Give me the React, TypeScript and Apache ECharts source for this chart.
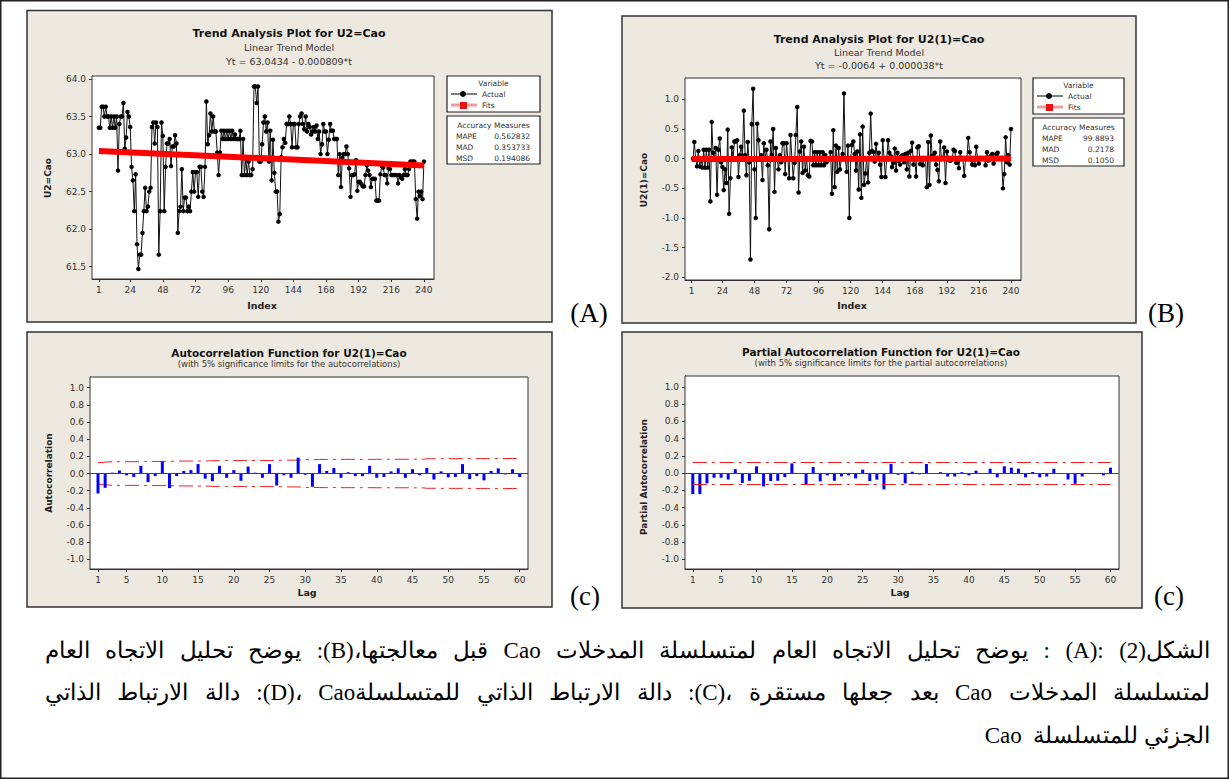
import React, { useEffect, useRef } from "react";
import * as echarts from "echarts";

// ---------- DATA ----------
const indexTicks = [1, 24, 48, 72, 96, 120, 144, 168, 192, 216, 240];
const lagTicks = [1, 5, 10, 15, 20, 25, 30, 35, 40, 45, 50, 55, 60];
const caoTicks = [61.5, 62.0, 62.5, 63.0, 63.5, 64.0];
const diffTicks = [-2.0, -1.5, -1.0, -0.5, 0.0, 0.5, 1.0];
const corrTicks = [-1.0, -0.8, -0.6, -0.4, -0.2, 0.0, 0.2, 0.4, 0.6, 0.8, 1.0];

// U2=Cao, t = 1..240
const cao = [
  63.35, 63.35, 63.63, 63.63, 63.5, 63.63, 63.5, 63.5, 63.35, 63.5,
  63.35, 63.5, 63.35, 63.5, 62.78, 63.4, 63.5, 63.5, 63.68, 63.07,
  63.22, 63.56, 63.5, 63.36, 62.83, 62.65, 62.24, 62.73, 61.8, 61.47,
  61.66, 61.66, 61.95, 62.24, 62.55, 62.24, 62.3, 62.5, 62.55, 63.36,
  63.42, 63.14, 63.42, 63.36, 61.66, 62.24, 63.42, 63.24, 62.24, 62.83,
  63.14, 63.14, 63.2, 62.84, 63.1, 63.1, 63.25, 63.14, 61.95, 62.24,
  62.3, 62.8, 62.24, 62.42, 62.42, 62.24, 62.3, 62.24, 62.5, 62.76,
  62.5, 62.76, 62.76, 62.43, 62.83, 62.83, 62.5, 62.43, 62.83, 63.7,
  63.13, 63.25, 63.54, 63.3, 63.5, 63.3, 63.3, 63.02, 62.72, 63.02,
  63.31, 63.2, 63.31, 63.2, 63.31, 63.2, 63.31, 63.2, 63.31, 63.2,
  63.26, 63.2, 63.2, 63.2, 63.31, 62.72, 63.2, 62.72, 62.94, 62.72,
  62.9, 62.72, 62.72, 62.8, 63.9, 63.9, 63.68, 63.9, 62.9, 62.9,
  63.13, 63.42, 63.5, 63.3, 63.42, 62.9, 63.31, 62.65, 63.19, 62.75,
  62.5, 62.5, 62.1, 62.2, 62.96, 63.09, 63.2, 63.15, 63.4, 63.4,
  63.5, 63.4, 63.09, 63.4, 63.4, 63.09, 63.09, 63.4, 63.5, 63.54,
  63.4, 63.33, 63.5, 63.3, 63.4, 63.36, 63.26, 63.3, 63.36, 63.3,
  63.38, 63.2, 63.3, 63.0, 63.13, 63.4, 63.3, 63.3, 63.0, 63.19,
  63.4, 63.31, 63.31, 63.2, 63.2, 63.2, 62.72, 63.0, 62.56, 62.95,
  63.0, 63.0, 63.1, 63.0, 62.81, 62.43, 62.72, 62.72, 62.73, 62.92,
  62.51, 62.63, 62.63, 62.6, 62.57, 62.57, 62.72, 62.85, 62.78, 62.72,
  62.56, 62.67, 62.67, 62.67, 62.38, 62.38, 62.38, 62.73, 62.84, 62.82,
  62.72, 62.72, 62.61, 62.81, 62.8, 62.72, 62.72, 62.72, 62.72, 62.72,
  62.61, 62.72, 62.69, 62.67, 62.72, 62.8, 62.72, 62.72, 62.8, 62.9,
  62.9, 62.9, 62.9, 62.4, 62.14, 62.5, 62.44, 62.5, 62.4, 62.9,
];
// fitted trend at t=1 and t=240
const caoFit = [63.0426, 62.8493];

// U2(1)=Cao, t = 2..240
const caoDiff = [
  0, 0.28, 0, -0.13, 0.13, -0.13, 0, -0.15, 0.15, -0.15,
  0.15, -0.15, 0.15, -0.72, 0.62, 0.1, 0, 0.18, -0.61, 0.15,
  0.34, -0.06, -0.14, -0.53, -0.18, -0.41, 0.49, -0.93, -0.33, 0.19,
  0, 0.29, 0.29, 0.31, -0.31, 0.06, 0.2, 0.05, 0.81, 0.06,
  -0.28, 0.28, -0.06, -1.7, 0.58, 1.18, -0.18, -1.0, 0.59, 0.31,
  0, 0.06, -0.36, 0.26, 0, 0.15, -0.11, -1.19, 0.29, 0.06,
  0.5, -0.56, 0.18, 0, -0.18, 0.06, -0.06, 0.26, 0.26, -0.26,
  0.26, 0, -0.33, 0.4, 0, -0.33, -0.07, 0.4, 0.87, -0.57,
  0.12, 0.29, -0.24, 0.2, -0.2, 0, -0.28, -0.3, 0.3, 0.29,
  -0.11, 0.11, -0.11, 0.11, -0.11, 0.11, -0.11, 0.11, -0.11, 0.06,
  -0.06, 0, 0, 0.11, -0.59, 0.48, -0.48, 0.22, -0.22, 0.18,
  -0.18, 0, 0.08, 1.1, 0, -0.22, 0.22, -1.0, 0, 0.23,
  0.29, 0.08, -0.2, 0.12, -0.52, 0.41, -0.66, 0.54, -0.44, -0.25,
  0, -0.4, 0.1, 0.76, 0.13, 0.11, -0.05, 0.25, 0, 0.1,
  -0.1, -0.31, 0.31, 0, -0.31, 0, 0.31, 0.1, 0.04, -0.14,
  -0.07, 0.17, -0.2, 0.1, -0.04, -0.1, 0.04, 0.06, -0.06, 0.08,
  -0.18, 0.1, -0.3, 0.13, 0.27, -0.1, 0, -0.3, 0.19, 0.21,
  -0.09, 0, -0.11, 0, 0, -0.48, 0.28, -0.44, 0.39, 0.05,
  0, 0.1, -0.1, -0.19, -0.38, 0.29, 0, 0.01, 0.19, -0.41,
  0.12, 0, -0.03, -0.03, 0, 0.15, 0.13, -0.07, -0.06, -0.16,
  0.11, 0, 0, -0.29, 0, 0, 0.35, 0.11, -0.02, -0.1,
  0, -0.11, 0.2, -0.01, -0.08, 0, 0, 0, 0, -0.11,
  0.11, -0.03, -0.02, 0.05, 0.08, -0.08, 0, 0.08, 0.1, 0,
  0, 0, -0.5, -0.26, 0.36, -0.06, 0.06, -0.1, 0.5,
];
const diffFit = [-0.0064, 0.0027];

// ACF / PACF, lags 1..60
const acf = [
  -0.233, -0.167, 0.01, 0.035, -0.02, -0.04, 0.09, -0.1, -0.03, 0.14,
  -0.17, -0.03, 0.03, 0.04, 0.11, -0.06, -0.09, 0.09, -0.05, 0.04,
  -0.085, 0.08, 0.01, -0.05, 0.11, -0.14, -0.02, -0.05, 0.185, -0.015,
  -0.155, 0.11, 0.03, 0.065, -0.05, 0.015, -0.03, -0.03, 0.09, -0.05,
  -0.04, 0.025, 0.06, -0.05, 0.05, -0.02, 0.065, -0.07, 0.025, -0.045,
  -0.04, 0.11, -0.065, -0.03, -0.08, 0.03, 0.06, -0.01, 0.05, -0.04,
];
const acfLimits = [
  0.127, 0.134, 0.138, 0.138, 0.138, 0.138, 0.139, 0.14, 0.141, 0.141,
  0.143, 0.145, 0.145, 0.145, 0.146, 0.147, 0.15, 0.15, 0.151, 0.151,
  0.151, 0.152, 0.152, 0.152, 0.152, 0.153, 0.156, 0.156, 0.157, 0.162,
  0.162, 0.164, 0.164, 0.164, 0.165, 0.165, 0.165, 0.165, 0.165, 0.166,
  0.166, 0.166, 0.166, 0.166, 0.167, 0.167, 0.172, 0.172, 0.173, 0.173,
  0.173, 0.173, 0.174, 0.174, 0.174, 0.174, 0.175, 0.175, 0.175, 0.175,
];
const pacf = [
  -0.245, -0.245, -0.12, -0.055, -0.055, -0.075, 0.045, -0.115, -0.09, 0.077,
  -0.155, -0.093, -0.09, -0.046, 0.112, -0.01, -0.127, 0.07, -0.097, -0.027,
  -0.09, -0.04, -0.027, -0.062, 0.039, -0.093, -0.077, -0.19, 0.105, -0.02,
  -0.12, 0.015, -0.015, 0.105, -0.01, 0.01, -0.04, -0.04, 0.01, -0.027,
  0.027, -0.01, 0.05, -0.05, 0.078, 0.062, 0.05, -0.05, 0.012, -0.05,
  -0.04, 0.05, -0.01, -0.075, -0.125, -0.04, -0.01, -0.01, -0.027, 0.062,
];
const pacfLimit = 0.127;

const accuracyA = [["MAPE", "0.562832"], ["MAD", "0.353733"], ["MSD", "0.194086"]];
const accuracyB = [["MAPE", "99.8893"], ["MAD", "0.2178"], ["MSD", "0.1050"]];

const titles = {
  a: ["Trend Analysis Plot for U2=Cao", "Linear Trend Model", "Yt = 63.0434 - 0.000809*t"],
  b: ["Trend Analysis Plot for U2(1)=Cao", "Linear Trend Model", "Yt = -0.0064 + 0.000038*t"],
  c: ["Autocorrelation Function for U2(1)=Cao", "(with 5% significance limits for the autocorrelations)"],
  d: ["Partial Autocorrelation Function for U2(1)=Cao", "(with 5% significance limits for the partial autocorrelations)"],
};

const captionLines = [
  "الشكل(2) :(A) : يوضح تحليل الاتجاه العام لمتسلسلة المدخلات Cao قبل معالجتها،(B): يوضح تحليل الاتجاه العام",
  "لمتسلسلة المدخلات Cao بعد جعلها مستقرة ،(C): دالة الارتباط الذاتي للمتسلسلةCao ،(D): دالة الارتباط الذاتي",
  "الجزئي للمتسلسلة  Cao",
];

// ---------- HELPERS ----------
const FONT = "'DejaVu Sans', Verdana, sans-serif";
const SERIF = "'Liberation Serif', 'Times New Roman', serif";
const BEIGE = "#EDE9E0";
const CAP_SIZE = 23;

function txt(x: number, y: number, text: string, o: any = {}) {
  const align = o.align || "center";
  return {
    type: "text",
    x,
    y,
    rotation: o.rotation || 0,
    silent: true,
    z: 50,
    style: {
      text,
      fill: o.color || "#1a1a1a",
      fontSize: o.size || 9,
      fontFamily: o.family || FONT,
      fontWeight: o.weight || "normal",
      textAlign: align,
      align,
      textVerticalAlign: "middle",
      verticalAlign: "middle",
    },
  };
}

function rect(x: number, y: number, w: number, h: number, fill: string, stroke: string, lw: number, z = -10) {
  return {
    type: "rect",
    silent: true,
    z,
    shape: { x, y, width: w, height: h },
    style: { fill, stroke, lineWidth: lw },
  };
}

function axis(gridIndex: number, min: number, max: number, ticks: number[], digits: number) {
  return {
    type: "value",
    gridIndex,
    min,
    max,
    axisLine: { show: true, onZero: false, lineStyle: { color: "#333", width: 1 } },
    axisTick: { show: true, customValues: ticks, length: 3, lineStyle: { color: "#333" } },
    axisLabel: {
      customValues: ticks,
      formatter: (v: number) => (digits ? Number(v).toFixed(digits) : String(Math.round(v))),
      fontSize: 9,
      color: "#333",
      fontFamily: FONT,
      margin: 6,
    },
    splitLine: { show: false },
  };
}

function legendBox(x: number, y: number, w: number, acc: string[][]) {
  const els: any[] = [];
  els.push(rect(x, y, w, 36, "#fff", "#222", 1.2, 5));
  els.push(txt(x + w / 2, y + 7, "Variable", { size: 7.5, color: "#333" }));
  els.push({ type: "line", z: 6, silent: true, shape: { x1: x + 4, y1: y + 18, x2: x + 30, y2: y + 18 }, style: { stroke: "#000", lineWidth: 1 } });
  els.push({ type: "circle", z: 7, silent: true, shape: { cx: x + 16, cy: y + 18, r: 3 }, style: { fill: "#000" } });
  els.push(txt(x + 35, y + 18, "Actual", { size: 7.5, align: "left", color: "#333" }));
  els.push({ type: "line", z: 6, silent: true, shape: { x1: x + 4, y1: y + 29, x2: x + 30, y2: y + 29 }, style: { stroke: "#F59A9A", lineWidth: 3 } });
  els.push({ type: "rect", z: 7, silent: true, shape: { x: x + 13, y: y + 26, width: 7, height: 7 }, style: { fill: "#ee1111" } });
  els.push(txt(x + 35, y + 29, "Fits", { size: 7.5, align: "left", color: "#333" }));
  const ay = y + 40;
  els.push(rect(x, ay, w, 48, "#fff", "#222", 1.2, 5));
  els.push(txt(x + w / 2, ay + 9, "Accuracy Measures", { size: 7.5, color: "#333" }));
  acc.forEach((row, i) => {
    els.push(txt(x + 9, ay + 20 + i * 11, row[0], { size: 7.5, align: "left", color: "#333" }));
    els.push(txt(x + w - 10, ay + 20 + i * 11, row[1], { size: 7.5, align: "right", color: "#333" }));
  });
  return els;
}

// justified right-to-left line: words laid out from the right edge
function justifiedLine(line: string, right: number, left: number, y: number) {
  const canvas = document.createElement("canvas");
  const ctx = canvas.getContext("2d") as CanvasRenderingContext2D;
  ctx.font = `${CAP_SIZE}px ${SERIF}`;
  const words = line.split(/\s+/).filter((w) => w.length);
  const widths = words.map((w) => ctx.measureText(w).width);
  const total = widths.reduce((a, b) => a + b, 0);
  const gap = (right - left - total) / Math.max(1, words.length - 1);
  const els: any[] = [];
  let x = right;
  words.forEach((w, i) => {
    els.push(txt(x, y, "\u202B" + w + "\u202C", { size: CAP_SIZE, family: SERIF, color: "#000", align: "right" }));
    x -= widths[i] + gap;
  });
  return els;
}

export default function App() {
  const ref = useRef<HTMLDivElement>(null);
  useEffect(() => {
    if (!ref.current) return;
    const chart = echarts.init(ref.current, undefined, { renderer: "svg" });

    const grids = [
      { left: 92, top: 76, width: 342, height: 203 },
      { left: 685, top: 78, width: 336, height: 202 },
      { left: 90, top: 377, width: 438, height: 192 },
      { left: 685, top: 376, width: 434, height: 193 },
    ].map((g) => ({ ...g, show: true, backgroundColor: "#fff", borderColor: "#333", borderWidth: 1, z: 1 }));

    const xAxis = [
      axis(0, -4.1, 247.4, indexTicks, 0),
      axis(1, -4, 247.5, indexTicks, 0),
      axis(2, -0.12, 61.16, lagTicks, 0),
      axis(3, -0.1, 61.2, lagTicks, 0),
    ];
    const yAxis = [
      axis(0, 61.336, 64.04, caoTicks, 1),
      axis(1, -2.045, 1.36, diffTicks, 1),
      axis(2, -1.113, 1.125, corrTicks, 1),
      axis(3, -1.113, 1.125, corrTicks, 1),
    ];

    const lineSeries = (idx: number, data: number[][]) => ({
      type: "line",
      xAxisIndex: idx,
      yAxisIndex: idx,
      data,
      symbol: "circle",
      symbolSize: 4.5,
      itemStyle: { color: "#000" },
      lineStyle: { color: "#111", width: 1 },
      z: 2,
      silent: true,
    });
    const fitSeries = (idx: number, data: number[][]) => ({
      type: "line",
      xAxisIndex: idx,
      yAxisIndex: idx,
      data,
      symbol: "none",
      lineStyle: { color: "#ff0000", width: 6 },
      z: 3,
      silent: true,
    });
    const dashRed = { color: "#ee1c1c", width: 1, type: [14, 5, 3, 5] };
    const zeroLine = { yAxis: 0, lineStyle: { color: "#444", width: 1, type: "solid" } };

    const series: any[] = [
      lineSeries(0, cao.map((v, i) => [i + 1, v])),
      fitSeries(0, [[1, caoFit[0]], [cao.length, caoFit[1]]]),
      lineSeries(1, caoDiff.map((v, i) => [i + 2, v])),
      fitSeries(1, [[1, diffFit[0]], [cao.length, diffFit[1]]]),
      {
        type: "bar",
        xAxisIndex: 2,
        yAxisIndex: 2,
        data: acf.map((v, i) => [i + 1, v]),
        barWidth: 3,
        itemStyle: { color: "#0000ff" },
        silent: true,
        z: 3,
        markLine: { symbol: ["none", "none"], silent: true, label: { show: false }, data: [zeroLine] },
      },
      {
        type: "line",
        xAxisIndex: 2,
        yAxisIndex: 2,
        data: acfLimits.map((v, i) => [i + 1, v]),
        step: "middle",
        symbol: "none",
        lineStyle: dashRed,
        silent: true,
        z: 2,
      },
      {
        type: "line",
        xAxisIndex: 2,
        yAxisIndex: 2,
        data: acfLimits.map((v, i) => [i + 1, -v]),
        step: "middle",
        symbol: "none",
        lineStyle: dashRed,
        silent: true,
        z: 2,
      },
      {
        type: "bar",
        xAxisIndex: 3,
        yAxisIndex: 3,
        data: pacf.map((v, i) => [i + 1, v]),
        barWidth: 3,
        itemStyle: { color: "#0000ff" },
        silent: true,
        z: 3,
        markLine: {
          symbol: ["none", "none"],
          silent: true,
          label: { show: false },
          lineStyle: dashRed,
          data: [
            zeroLine,
            [{ coord: [1, pacfLimit] }, { coord: [pacf.length, pacfLimit] }],
            [{ coord: [1, -pacfLimit] }, { coord: [pacf.length, -pacfLimit] }],
          ],
        },
      },
    ];

    const g: any[] = [];
    // page frame and panels
    g.push(rect(0.75, 0.75, 1227.5, 777.5, "#fff", "#222", 1.5, -20));
    g.push(rect(27, 10.5, 525, 311.5, BEIGE, "#333", 1.5));
    g.push(rect(622, 16, 514, 307, BEIGE, "#333", 1.5));
    g.push(rect(27, 332, 525, 275, BEIGE, "#333", 1.5));
    g.push(rect(622, 332, 520, 276, BEIGE, "#333", 1.5));

    // titles
    g.push(txt(289, 33, titles.a[0], { size: 11, weight: "bold", color: "#111" }));
    g.push(txt(289, 47, titles.a[1], { size: 9.5, color: "#333" }));
    g.push(txt(289, 61, titles.a[2], { size: 9.5, color: "#333" }));
    g.push(txt(879, 39, titles.b[0], { size: 11, weight: "bold", color: "#111" }));
    g.push(txt(879, 52, titles.b[1], { size: 9.5, color: "#333" }));
    g.push(txt(879, 65, titles.b[2], { size: 9.5, color: "#333" }));
    g.push(txt(289, 353, titles.c[0], { size: 10.5, weight: "bold", color: "#111" }));
    g.push(txt(289, 364, titles.c[1], { size: 8.5, color: "#333" }));
    g.push(txt(881, 352, titles.d[0], { size: 10.5, weight: "bold", color: "#111" }));
    g.push(txt(881, 363, titles.d[1], { size: 8.5, color: "#333" }));

    // axis titles
    g.push(txt(262, 305, "Index", { size: 9.5, weight: "bold", color: "#222" }));
    g.push(txt(852, 305, "Index", { size: 9.5, weight: "bold", color: "#222" }));
    g.push(txt(307, 592, "Lag", { size: 9.5, weight: "bold", color: "#222" }));
    g.push(txt(900, 592, "Lag", { size: 9.5, weight: "bold", color: "#222" }));
    g.push(txt(48, 178, "U2=Cao", { size: 9, weight: "bold", color: "#222", rotation: Math.PI / 2 }));
    g.push(txt(644, 180, "U2(1)=Cao", { size: 9, weight: "bold", color: "#222", rotation: Math.PI / 2 }));
    g.push(txt(49, 473, "Autocorrelation", { size: 9, weight: "bold", color: "#222", rotation: Math.PI / 2 }));
    g.push(txt(644, 477, "Partial Autocorrelation", { size: 9, weight: "bold", color: "#222", rotation: Math.PI / 2 }));

    // legends
    g.push(...legendBox(447, 76, 93, accuracyA));
    g.push(...legendBox(1033, 78, 91, accuracyB));

    // panel letters
    g.push(txt(589, 313, "(A)", { size: 27, family: SERIF, color: "#000" }));
    g.push(txt(1166, 313, "(B)", { size: 27, family: SERIF, color: "#000" }));
    g.push(txt(585, 596, "(c)", { size: 27, family: SERIF, color: "#000" }));
    g.push(txt(1169, 596, "(c)", { size: 27, family: SERIF, color: "#000" }));

    // caption (right-to-left, first two lines justified)
    g.push(...justifiedLine(captionLines[0], 1210, 45, 650));
    g.push(...justifiedLine(captionLines[1], 1210, 45, 692));
    g.push(txt(1210, 735, "\u202B" + captionLines[2] + "\u202C", { size: CAP_SIZE, family: SERIF, color: "#000", align: "right" }));

    chart.setOption({
      animation: false,
      backgroundColor: "#fff",
      grid: grids,
      xAxis,
      yAxis,
      series,
      graphic: { elements: g },
    });
    return () => chart.dispose();
  }, []);
  return <div ref={ref} style={{ position: "fixed", left: 0, top: 0, width: 1229, height: 780 }} />;
}
